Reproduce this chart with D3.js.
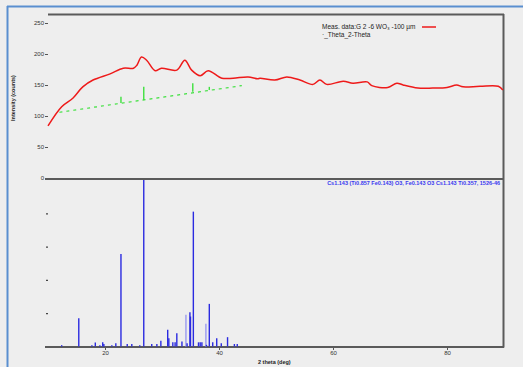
<!DOCTYPE html>
<html>
<head>
<meta charset="utf-8">
<script src="https://cdn.jsdelivr.net/npm/d3@7"></script>
<style>
  body { margin: 0; background: #eeeeee; }
  text { font-family: "Liberation Sans", Arial, sans-serif; }
</style>
</head>
<body>
<script>
// measured pattern (2theta deg, counts)
const measTheta = [10, 12.4, 14.4, 16.1, 17.9, 20.9, 23.2, 25, 25.6, 26.4, 27.3, 28.8, 29.9, 32.6, 34, 35.2, 36.7, 38.1, 40.5, 42.5, 45.1, 46.8,
  47.2, 49.8, 51.9, 54.2, 56.5, 57.7, 58.9, 61.8, 63.5, 66, 66.8, 69.6, 71.2, 72.3, 74.9, 77.5, 80, 81.7, 82.8, 85.8, 89, 89.8];
const measCounts = [84, 115, 129, 147, 158, 168, 177, 177, 182, 195, 190, 173, 177, 174, 190, 174, 165, 173, 161, 161, 163, 160,
  161, 158, 163, 158, 151, 158, 151, 156, 153, 155, 149, 146, 153, 150, 145, 145, 146, 150, 147, 148, 148, 142];

// reference pattern overlay in the top panel
const refBaseTheta = [12, 44];
const refBaseCounts = [106, 149];
const refStickTheta = [22.8, 26.8, 35.4, 38.3];
const refStickBottom = [121, 126, 139, 142];
const refStickTop = [131, 147, 153, 147];

// reference lines (bottom panel), relative intensity %
const stickTheta = [12.4, 15.4, 17.7, 18.3, 19.1, 19.6, 19.8, 21.2, 21.9, 22.8, 23.9, 24.7, 26.1, 26.8, 28.2, 29.1, 29.8, 31, 31.2, 31.9,
  32.3, 32.6, 33.5, 34.2, 34.4, 34.9, 35, 35.5, 36.4, 36.7, 37, 37.7, 37.8, 38.3, 38.9, 39.6, 40.4, 41.5, 42.7, 43.2];
const stickInt = [0.8, 17, 0.8, 2.4, 0.8, 2.5, 1.5, 0.8, 2, 55.6, 1.5, 1.5, 0.8, 100, 1.5, 1.5, 3.4, 10, 5, 2.5,
  2.5, 8, 3, 19, 2, 20.6, 18, 81, 2.5, 2.5, 2.5, 13.6, 1, 25.6, 2.5, 5, 2, 5.6, 1.5, 1.5];
const stickLight = [34.2, 37.7];

const yTicks = [0, 50, 100, 150, 200, 250];
const xTicks = [20, 40, 60, 80];
const pctTicks = [20, 40, 60, 80];

const W = 523, H = 367;
const svg = d3.select("body").append("svg").attr("width", W).attr("height", H);

// window frame
svg.append("rect").attr("x", 7).attr("y", 6).attr("width", W - 7).attr("height", H - 6).attr("fill", "#eeeeee");
svg.append("line").attr("x1", 7).attr("x2", W).attr("y1", 6.5).attr("y2", 6.5).attr("stroke", "#5a8fd0").attr("stroke-width", 2);
svg.append("line").attr("x1", 7.5).attr("x2", 7.5).attr("y1", 6).attr("y2", H).attr("stroke", "#5a8fd0").attr("stroke-width", 2);

const x = d3.scaleLinear().domain([10, 90]).range([48, 504]);
const y = d3.scaleLinear().domain([0, 250]).range([178, 23]);
const yp = d3.scaleLinear().domain([0, 100]).range([346.5, 180]);

// top panel y axis
const yAxis = svg.append("g").attr("transform", "translate(48,0)")
  .call(d3.axisLeft(y).tickValues(yTicks).tickSize(3).tickPadding(1));
yAxis.select(".domain").remove();
yAxis.selectAll("text").attr("font-size", 6).attr("fill", "#333");
yAxis.selectAll("line").attr("stroke", "#555");

svg.append("text").attr("transform", "translate(15,98) rotate(-90)")
  .attr("text-anchor", "middle").attr("font-size", 5.5).attr("font-weight", "bold").attr("fill", "#222")
  .text("Intensity (counts)");

// bottom panel y ticks (no labels)
const pAxis = svg.append("g").attr("transform", "translate(48,0)")
  .call(d3.axisLeft(yp).tickValues(pctTicks).tickSize(2).tickFormat(""));
pAxis.select(".domain").remove();
pAxis.selectAll("line").attr("stroke", "#444").attr("stroke-width", 1.2);

// x axis
const xAxis = svg.append("g").attr("transform", "translate(0,347)")
  .call(d3.axisBottom(x).tickValues(xTicks).tickSize(3).tickPadding(1));
xAxis.select(".domain").remove();
xAxis.selectAll("text").attr("font-size", 6).attr("fill", "#333");
xAxis.selectAll("line").attr("stroke", "#555");

svg.append("text").attr("x", 258).attr("y", 364).attr("font-size", 5.5).attr("font-weight", "bold").attr("fill", "#222")
  .text("2 theta (deg)");

// frame lines
const frame = "#5a5a5a";
svg.append("line").attr("x1", 48).attr("x2", 504).attr("y1", 14.5).attr("y2", 14.5).attr("stroke", frame).attr("stroke-width", 2);
svg.append("line").attr("x1", 503.5).attr("x2", 503.5).attr("y1", 14).attr("y2", 347.5).attr("stroke", frame).attr("stroke-width", 2);
svg.append("line").attr("x1", 45).attr("x2", 504).attr("y1", 179).attr("y2", 179).attr("stroke", frame).attr("stroke-width", 2);
svg.append("line").attr("x1", 45).attr("x2", 504).attr("y1", 347).attr("y2", 347).attr("stroke", frame).attr("stroke-width", 2);

// bottom panel sticks
svg.append("g").selectAll("line").data(stickTheta).join("line")
  .attr("x1", d => x(d)).attr("x2", d => x(d))
  .attr("y1", yp(0)).attr("y2", (d, i) => yp(stickInt[i]))
  .attr("stroke", d => stickLight.includes(d) ? "#9a9af0" : "#2a2ae0")
  .attr("stroke-width", 1.4);

svg.append("text").attr("x", 500).attr("y", 185).attr("text-anchor", "end")
  .attr("font-size", 5.5).attr("font-weight", "bold").attr("fill", "#3a3af0")
  .text("Cs1.143 (Ti0.857 Fe0.143) O3, Fe0.143 O3 Cs1.143 Ti0.357, 1526-46");

// green reference overlay
svg.append("path")
  .datum(refBaseTheta.map((t, i) => [t, refBaseCounts[i]]))
  .attr("d", d3.line().x(d => x(d[0])).y(d => y(d[1])))
  .attr("fill", "none").attr("stroke", "#3ee03e").attr("stroke-width", 1.2)
  .attr("stroke-dasharray", "3,4");
svg.append("g").selectAll("line").data(refStickTheta).join("line")
  .attr("x1", d => x(d)).attr("x2", d => x(d))
  .attr("y1", (d, i) => y(refStickBottom[i])).attr("y2", (d, i) => y(refStickTop[i]))
  .attr("stroke", "#3ee03e").attr("stroke-width", 1.4);

// measured curve
svg.append("path")
  .datum(measTheta.map((t, i) => [t, measCounts[i]]))
  .attr("d", d3.line().curve(d3.curveCatmullRom).x(d => x(d[0])).y(d => y(d[1])))
  .attr("fill", "none").attr("stroke", "#ee1a1a").attr("stroke-width", 1.5);

// legend
svg.append("text").attr("x", 322).attr("y", 29).attr("font-size", 6.5).attr("fill", "#222")
  .text("Meas. data:G 2 -6 WO\u2083  -100 \u00b5m");
svg.append("line").attr("x1", 422).attr("x2", 436).attr("y1", 27).attr("y2", 27)
  .attr("stroke", "#ee1a1a").attr("stroke-width", 1.5);
svg.append("text").attr("x", 322).attr("y", 37).attr("font-size", 6.5).attr("fill", "#222")
  .text("\u00b7_Theta_2-Theta");
</script>
</body>
</html>
